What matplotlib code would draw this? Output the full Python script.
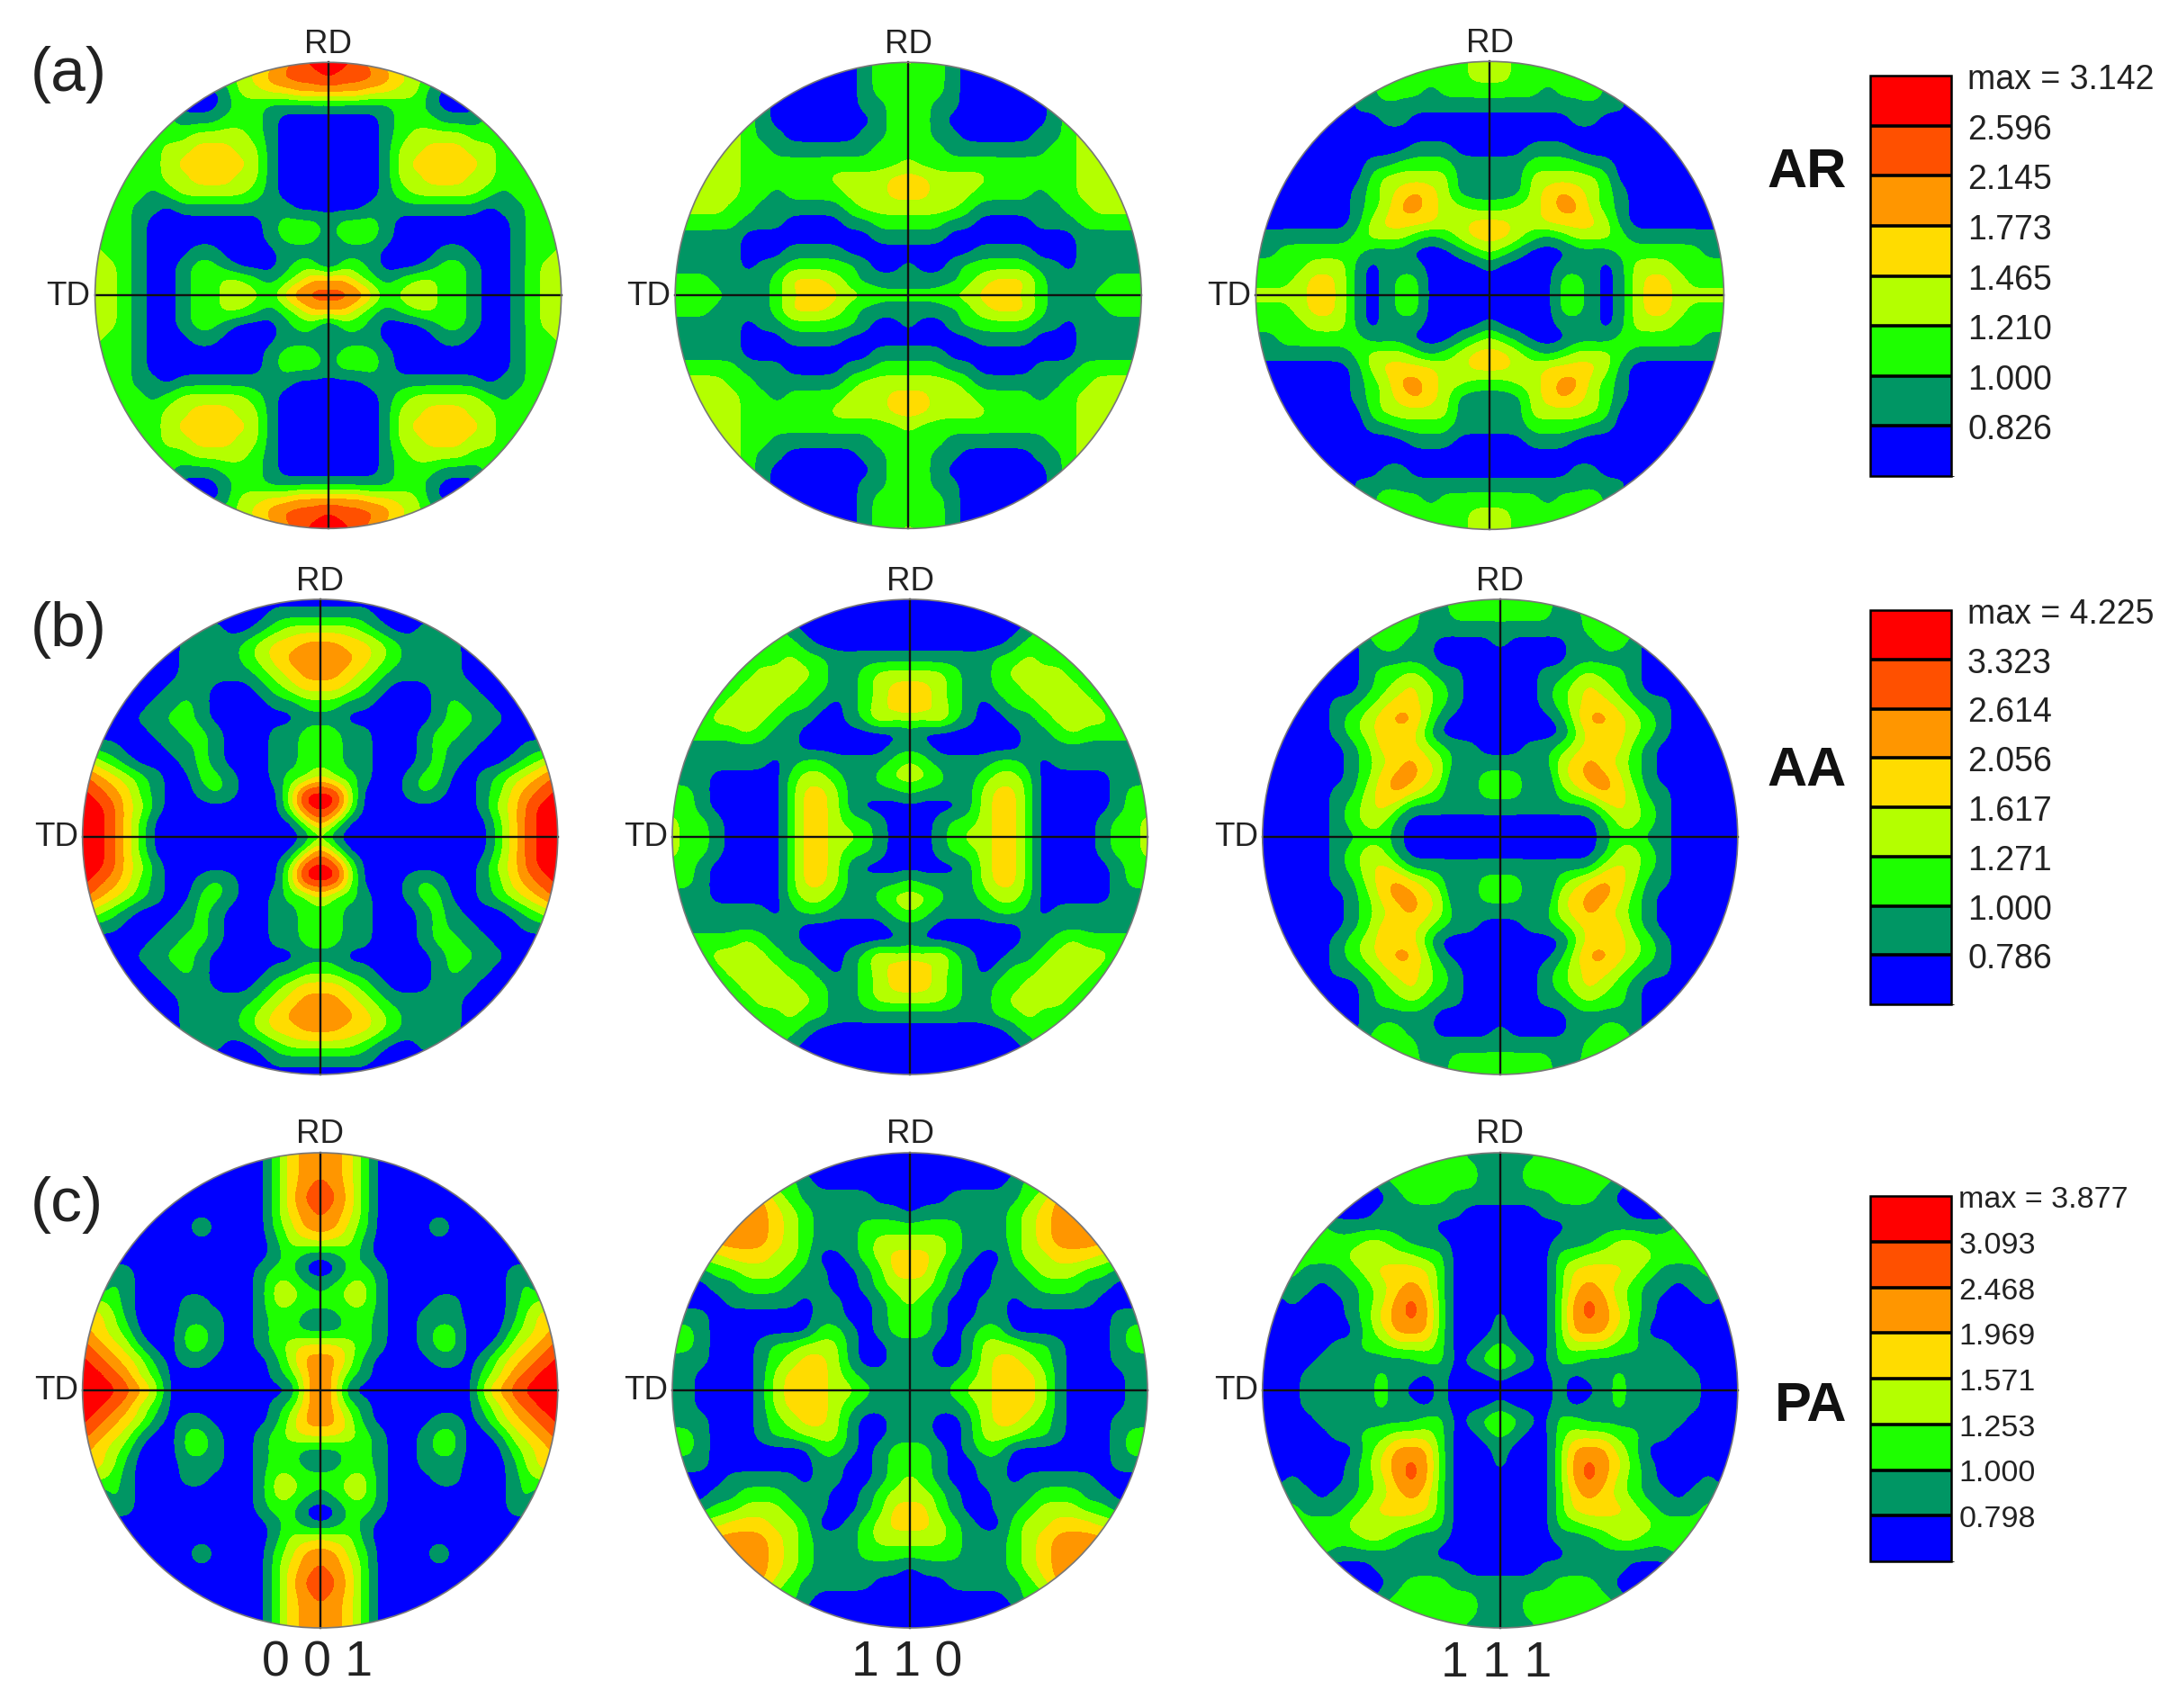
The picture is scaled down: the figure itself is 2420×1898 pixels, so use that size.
import numpy as np
import matplotlib
matplotlib.use('Agg')
from matplotlib import pyplot as plt
from matplotlib.cm import ScalarMappable
from matplotlib.colors import BoundaryNorm, ListedColormap
from matplotlib.patches import Circle

plt.rcParams['font.family'] = ['Liberation Sans', 'DejaVu Sans']

W, H = 2420, 1899

# colour classes, lowest density first
COLORS = ['#0000ff', '#009664', '#1eff00', '#b4ff00', '#ffdc00', '#ff9600', '#ff5000', '#ff0000']

# density class, upper left quadrant, rim to centre
AR_001 = ['22222222222345677', '22222222223456667', '00000000013344555', '22222100012211111',
          '22222211122210000', '22222223333210000', '22222334443310000', '22222344444310000',
          '22222334443310000', '22221233333210000', '22211011111111000', '22210000000012221',
          '22210000000012221', '32210001100001110', '33210012210001220', '33210012233212355',
          '33210012233324666']
AR_110 = ['22222220000001223', '22222210000001222', '22222210000001222', '22222210000001122',
          '23333210000000122', '33333211000001122', '33333221111111222', '33333222222222223',
          '33333222222333344', '33333221222233344', '33332211111123333', '22222111000011222',
          '11111000000000111', '11111000111100000', '11111011222221001', '22211112444321111',
          '22221112344433222']
AR_111 = ['00000000222222233', '00000000222222233', '00000000132212222', '00000001111111111',
          '00000000011000000', '00000000000000000', '00000000000111000', '00000000112222111',
          '00000000233333111', '00000001234543111', '00000001235543322', '00000001344443344',
          '11111112333212344', '11222222111000123', '22223331011100001', '22234431012200000',
          '33334431012200000']
AA_001 = ['00000000000000000', '00000000000001111', '00000000110012333', '00000001111234455',
          '00000001111234555', '00000001211123455', '00000011100012344', '00000112100001122',
          '00001122100000011', '00000112210001122', '21100011210001122', '43210001210001122',
          '65432100221001224', '76542100121000377', '77643100000000377', '77642000000000036',
          '77642000000000002']
AA_110 = ['22222220000000000', '22222221000000000', '22222222100000000', '22222222210000000',
          '22222222322111111', '22222233332112333', '22222333322112344', '22223333221012345',
          '22233332110012433', '22222321100000001', '11111111100000011', '11111110122111123',
          '11100000233211233', '22100000244311112', '22100000244310000', '32210000244322100',
          '32210000244332100']
AA_111 = ['00000002222212222', '00000002222112222', '00000002222111111', '00000001221100001',
          '00000001111100000', '00000001223211000', '00000001234321000', '00000112344321000',
          '00000123455310000', '00000123444200000', '00000012444321100', '00000012345431111',
          '00000012455430122', '00000113454320122', '00000123431111111', '00000123310000000',
          '00000112210000000']
PA_001 = ['00000000000002455', '00000000000002455', '00000000000002456', '00000000000002466',
          '00000000000002456', '00000000200002355', '00000000000001334', '00000000000001210',
          '00110000000012200', '00210000000013321', '33210001100013322', '44310001110012211',
          '54320002210012211', '65431002210012344', '76543101100001355', '77653200000001246',
          '77765300000000046']
PA_110 = ['22222222100000000', '22222222100000000', '22222222210000000', '55555553211111000',
          '55555554321111110', '55555554321112222', '55555554321112333', '33334443320012344',
          '11122333211001244', '00011222111001233', '00001111101100123', '11100000001100122',
          '22100000002210122', '22100012233310011', '11100012344310011', '11000013444321111',
          '11000013444332111']
PA_111 = ['00000000222222111', '00000000222222211', '00000000122222211', '00000000012221111',
          '00000000111111000', '22222111111100000', '22222223321110000', '22222233333220000',
          '22211123444420000', '11110112345420000', '00100012356520000', '00000012456520001',
          '00000002355520001', '00000112233320012', '00001111111220123', '00011111211010001',
          '00011111210010000']

AR_LEVELS = ['max = 3.142', '2.596', '2.145', '1.773', '1.465', '1.210', '1.000', '0.826']
AA_LEVELS = ['max = 4.225', '3.323', '2.614', '2.056', '1.617', '1.271', '1.000', '0.786']
PA_LEVELS = ['max = 3.877', '3.093', '2.468', '1.969', '1.571', '1.253', '1.000', '0.798']

ROW_LETTERS = ['(a)', '(b)', '(c)']
SAMPLE_NAMES = ['AR', 'AA', 'PA']
PLANE_NAMES = ['0 0 1', '1 1 0', '1 1 1']


def to_field(rows):
    # the figures are mirror symmetric, so one quadrant gives the whole field
    q = np.array([[int(c) for c in row] for row in rows], dtype=float)
    top = np.hstack([q, q[:, -2::-1]])
    return np.vstack([top, top[-2::-1]])


def fig_xy(x, y):
    return x / W, 1 - y / H


def pole_figure(fig, rows, cx, cy, r):
    ax = fig.add_axes([(cx - r - 4) / W, 1 - (cy + r + 4) / H, (2 * r + 8) / W, (2 * r + 8) / H])
    z = to_field(rows)
    half = 1 / (z.shape[0] - 1)
    # classes are resampled as data, so the colour edges come out round
    im = ax.imshow(z, extent=[-1 - half, 1 + half, -1 - half, 1 + half], origin='upper',
                   cmap=ListedColormap(COLORS), norm=BoundaryNorm(np.arange(-0.5, 8.5), 8),
                   interpolation='bicubic', interpolation_stage='data')
    ax.set_xlim(-(r + 4) / r, (r + 4) / r)
    ax.set_ylim(-(r + 4) / r, (r + 4) / r)
    ax.axis('off')
    rim = Circle((0, 0), 1, transform=ax.transData, fc='none', ec='#777777', lw=1.2, zorder=4)
    ax.add_patch(rim)
    im.set_clip_path(rim)
    ax.plot([-1, 1], [0, 0], color='#111111', lw=1.7, zorder=3)
    ax.plot([0, 0], [-1, 1], color='#111111', lw=1.7, zorder=3)
    x, y = fig_xy(cx, cy - r - 21)
    fig.text(x, y, 'RD', ha='center', va='center', fontsize=26.5, color='#222222')
    x, y = fig_xy(cx - r - 5, cy)
    fig.text(x, y, 'TD', ha='right', va='center', fontsize=26.5, color='#222222')


def level_bar(fig, labels, x0, x1, y0, y1, fontsize, pad):
    cax = fig.add_axes([x0 / W, 1 - y1 / H, (x1 - x0) / W, (y1 - y0) / H])
    values = [float(s.split()[-1]) for s in labels][::-1]
    bounds = [values[0] * 0.83] + values
    sm = ScalarMappable(norm=BoundaryNorm(bounds, 8), cmap=ListedColormap(COLORS))
    cb = fig.colorbar(sm, cax=cax, spacing='uniform', drawedges=True, ticks=bounds[1:])
    cb.set_ticklabels(labels[::-1])
    cb.dividers.set_color('black')
    cb.dividers.set_linewidth(2.6)
    cb.outline.set_edgecolor('black')
    cb.outline.set_linewidth(1.8)
    cax.tick_params(length=0, pad=pad, labelsize=fontsize, labelcolor='#222222')


if __name__ == '__main__':
    fig = plt.figure(figsize=(W / 100, H / 100), dpi=100)

    pole_figure(fig, AR_001, 364.6, 329.3, 259)
    pole_figure(fig, AR_110, 1009.2, 329.3, 259)
    pole_figure(fig, AR_111, 1655.4, 329.3, 260)
    pole_figure(fig, AA_001, 355.7, 931, 264)
    pole_figure(fig, AA_110, 1011, 931, 264)
    pole_figure(fig, AA_111, 1666.8, 931, 264)
    pole_figure(fig, PA_001, 355.7, 1546, 264)
    pole_figure(fig, PA_110, 1011, 1546, 264)
    pole_figure(fig, PA_111, 1666.8, 1546, 264)

    level_bar(fig, AR_LEVELS, 2078, 2168, 85, 530, 27, 13)
    level_bar(fig, AA_LEVELS, 2078, 2168, 679, 1117, 27, 13)
    level_bar(fig, PA_LEVELS, 2078, 2168, 1330, 1736, 24.5, 6)

    for label, y in zip(ROW_LETTERS, [83, 700, 1339]):
        fig.text(*fig_xy(34, y), label, ha='left', va='center', fontsize=50, color='#222222')
    for name, y in zip(SAMPLE_NAMES, [192, 858, 1564]):
        fig.text(*fig_xy(2052, y), name, ha='right', va='center', fontsize=44, fontweight='bold',
                 color='#111111')
    for name, x in zip(PLANE_NAMES, [353, 1008, 1663]):
        fig.text(*fig_xy(x, 1849), name, ha='center', va='center', fontsize=40, color='#222222')

    fig.savefig('out.png', dpi=100, facecolor='white')
